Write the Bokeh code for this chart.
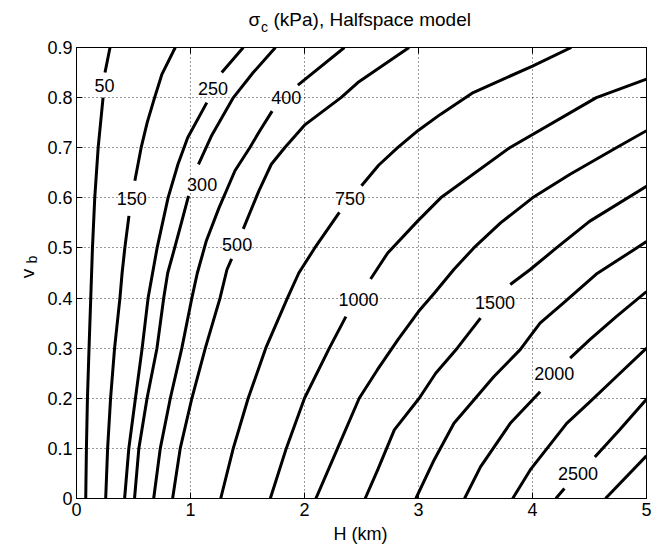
from bokeh.plotting import figure
from bokeh.layouts import column, row
from bokeh.models import Range1d, LinearAxis, FixedTicker, CustomJSTickFormatter
from bokeh.core.properties import value
from bokeh.embed import file_html
from bokeh.resources import INLINE
import math

nan = float("nan")

# ---- axis ticks ----
x_ticks = [0, 1, 2, 3, 4, 5]
x_tick_labels = ["0", "1", "2", "3", "4", "5"]
y_ticks = [0, 0.1, 0.2, 0.3, 0.4, 0.5, 0.6, 0.7, 0.8, 0.9]
y_tick_labels = ["0", "0.1", "0.2", "0.3", "0.4", "0.5", "0.6", "0.7", "0.8", "0.9"]

# ---- contour levels (kPa) and traced contour paths (H in km, v_b); nan = label gap ----
levels = [50, 150, 250, 300, 400, 500, 750, 1000, 1250, 1500, 1750, 2000, 2250, 2500, 2750]

h_50 = [0.081, 0.087, 0.096, 0.110, 0.125, 0.140, 0.160, 0.190, 0.233, nan, 0.250, 0.294]
v_50 = [0.0, 0.1, 0.2, 0.3, 0.4, 0.5, 0.6, 0.7, 0.8, nan, 0.85, 0.9]

h_150 = [0.256, 0.273, 0.299, 0.334, 0.381, 0.400, 0.424, 0.460, nan, 0.512, 0.567, 0.620, 0.685, 0.750, 0.866]
v_150 = [0.0, 0.1, 0.2, 0.3, 0.4, 0.45, 0.5, 0.564, nan, 0.634, 0.7, 0.75, 0.8, 0.847, 0.9]

h_250 = [0.422, 0.459, 0.517, 0.576, 0.628, 0.707, 0.803, 0.890, 0.975, 1.143, nan, 1.274, 1.463]
v_250 = [0.0, 0.1, 0.2, 0.3, 0.4, 0.5, 0.6, 0.667, 0.72, 0.79, nan, 0.85, 0.9]

h_300 = [0.509, 0.547, 0.619, 0.706, 0.765, 0.800, 0.861, 0.920, 0.983, nan, 1.070, 1.187, 1.376, 1.550, 1.745]
v_300 = [0.0, 0.1, 0.2, 0.3, 0.4, 0.45, 0.5, 0.55, 0.604, nan, 0.667, 0.725, 0.8, 0.85, 0.9]

h_400 = [0.677, 0.735, 0.823, 0.924, 1.012, 1.060, 1.140, 1.250, 1.390, 1.520, 1.608, 1.716, nan, 1.942, 2.350]
v_400 = [0.0, 0.1, 0.2, 0.3, 0.4, 0.45, 0.515, 0.58, 0.654, 0.7, 0.734, 0.773, nan, 0.825, 0.9]

h_500 = [0.843, 0.910, 1.012, 1.130, 1.259, 1.320, 1.361, nan, 1.463, 1.600, 1.709, 1.826, 2.000, 2.320, 2.468, 2.917]
v_500 = [0.0, 0.1, 0.2, 0.3, 0.4, 0.457, 0.478, nan, 0.538, 0.614, 0.667, 0.7, 0.745, 0.8, 0.83, 0.9]

h_750 = [1.265, 1.375, 1.506, 1.660, 1.850, 1.950, 2.090, 2.306, nan, 2.500, 2.650, 2.817, 3.000, 3.195, 3.480, 4.000, 4.340]
v_750 = [0.0, 0.1, 0.2, 0.3, 0.4, 0.45, 0.5, 0.571, nan, 0.624, 0.665, 0.7, 0.735, 0.767, 0.81, 0.863, 0.9]

h_1000 = [1.700, 1.840, 2.000, 2.218, 2.363, nan, 2.580, 2.730, 2.990, 3.195, 3.800, 4.560, 5.000]
v_1000 = [0.0, 0.1, 0.2, 0.3, 0.363, nan, 0.438, 0.49, 0.553, 0.6, 0.7, 0.8, 0.837]

h_1250 = [2.100, 2.290, 2.480, 2.640, 2.820, 3.000, 3.140, 3.310, 3.485, 3.720, 4.000, 4.330, 4.735, 5.000]
v_1250 = [0.0, 0.1, 0.2, 0.257, 0.317, 0.373, 0.41, 0.457, 0.5, 0.55, 0.6, 0.647, 0.7, 0.734]

h_1500 = [2.532, 2.642, 2.788, 3.006, 3.151, 3.340, 3.544, nan, 3.805, 3.980, 4.210, 4.500, 5.000]
v_1500 = [0.0, 0.057, 0.137, 0.2, 0.25, 0.3, 0.36, nan, 0.427, 0.457, 0.5, 0.553, 0.623]

h_1750 = [2.977, 3.137, 3.311, 3.484, 3.660, 3.892, 4.066, 4.270, 4.560, 4.880, 5.000]
v_1750 = [0.0, 0.077, 0.15, 0.196, 0.243, 0.297, 0.35, 0.39, 0.448, 0.495, 0.513]

h_2000 = [3.404, 3.544, 3.805, 4.067, nan, 4.330, 4.503, 4.735, 5.000]
v_2000 = [0.0, 0.063, 0.15, 0.213, nan, 0.28, 0.317, 0.363, 0.413]

h_2250 = [3.826, 3.980, 4.300, 4.503, 4.735, 5.000]
v_2250 = [0.0, 0.057, 0.15, 0.193, 0.243, 0.3]

h_2500 = [4.205, 4.280, nan, 4.547, 4.765, 5.000]
v_2500 = [0.0, 0.02, nan, 0.083, 0.137, 0.198]

h_2750 = [4.640, 5.000]
v_2750 = [0.0, 0.085]

contour_h = [h_50, h_150, h_250, h_300, h_400, h_500, h_750, h_1000,
             h_1250, h_1500, h_1750, h_2000, h_2250, h_2500, h_2750]
contour_v = [v_50, v_150, v_250, v_300, v_400, v_500, v_750, v_1000,
             v_1250, v_1500, v_1750, v_2000, v_2250, v_2500, v_2750]

# ---- inline contour labels ----
label_text = ["50", "150", "250", "300", "400", "500", "750", "1000", "1500", "2000", "2500"]
label_h = [0.245, 0.484, 1.198, 1.102, 1.840, 1.409, 2.400, 2.473, 3.672, 4.190, 4.400]
label_v = [0.824, 0.598, 0.819, 0.626, 0.800, 0.507, 0.598, 0.398, 0.391, 0.249, 0.050]

# ---- texts ----
title_main = "σ"
title_sub = "c"
title_rest = "(kPa), Halfspace model"
xlabel_text = "H (km)"
ylabel_main = "v"
ylabel_sub = "b"

FONT = "Liberation Sans"
W, H = 664, 545
TOP_H = 34          # strip holding the title
LEFT_W = 44         # strip holding the y label
BOT_H = 20          # strip holding the x label
MID_H = H - TOP_H - BOT_H


def strip(width, height):
    f = figure(width=width, height=height, x_range=Range1d(0, width), y_range=Range1d(0, height),
               output_backend="svg", toolbar_location=None, title=None,
               x_axis_type=None, y_axis_type=None, min_border=0,
               min_border_left=0, min_border_right=0, min_border_top=0, min_border_bottom=0)
    f.outline_line_color = None
    f.background_fill_color = "white"
    f.border_fill_color = "white"
    f.xgrid.visible = False
    f.ygrid.visible = False
    return f


# title strip (coordinates in pixels; y measured up from the strip's bottom)
tfig = strip(W, TOP_H)
tfig.text(x=[248], y=[TOP_H - 19], text=[title_main], text_align="left", text_baseline="middle",
          text_font=value(FONT), text_font_size="19px", text_color="black")
tfig.text(x=[260.5], y=[TOP_H - 26.6], text=[title_sub], text_align="left", text_baseline="middle",
          text_font=value(FONT), text_font_size="14px", text_color="black")
tfig.text(x=[273], y=[TOP_H - 19], text=[title_rest], text_align="left", text_baseline="middle",
          text_font=value(FONT), text_font_size="19px", text_color="black")

# y-label strip
lfig = strip(LEFT_W, MID_H)
mid_bottom = TOP_H + MID_H
lfig.text(x=[26.5], y=[mid_bottom - 280], text=[ylabel_main], angle=math.pi / 2, text_align="center",
          text_baseline="middle", text_font=value(FONT), text_font_size="19px", text_color="black")
lfig.text(x=[31], y=[mid_bottom - 265], text=[ylabel_sub], angle=math.pi / 2, text_align="center",
          text_baseline="middle", text_font=value(FONT), text_font_size="14px", text_color="black")

# x-label strip
bfig = strip(W, BOT_H)
bfig.text(x=[360], y=[H - 533.3], text=[xlabel_text], text_align="center", text_baseline="middle",
          text_font=value(FONT), text_font_size="18px", text_color="black")

# main contour plot
p = figure(width=W - LEFT_W, height=MID_H, x_range=Range1d(0, 5), y_range=Range1d(0, 0.9),
           output_backend="svg", toolbar_location=None, title=None,
           min_border_left=74 - LEFT_W, min_border_right=W - 646,
           min_border_top=47 - TOP_H, min_border_bottom=mid_bottom - 498)
p.background_fill_color = "white"
p.border_fill_color = "white"
p.outline_line_color = "black"
p.outline_line_width = 1

p.xaxis.ticker = FixedTicker(ticks=x_ticks)
p.xaxis.major_label_overrides = dict(zip(x_ticks, x_tick_labels))
p.yaxis.ticker = FixedTicker(ticks=y_ticks)
p.yaxis.major_label_overrides = dict(zip(y_ticks, y_tick_labels))
p.xaxis.major_label_standoff = 4
p.yaxis.major_label_standoff = 4

for ax in p.axis:
    ax.major_tick_in = 6
    ax.major_tick_out = 0
    ax.minor_tick_line_color = None
    ax.axis_line_color = "black"
    ax.major_tick_line_color = "black"
    ax.major_label_text_font = FONT
    ax.major_label_text_font_size = "18px"
    ax.major_label_text_color = "black"

for loc, ticks in (("right", y_ticks), ("above", x_ticks)):
    ax = LinearAxis(ticker=FixedTicker(ticks=ticks),
                    formatter=CustomJSTickFormatter(code="return ''"),
                    major_tick_in=6, major_tick_out=0, minor_tick_line_color=None,
                    major_label_standoff=0, axis_line_color="black",
                    major_label_text_font_size="1px")
    p.add_layout(ax, loc)

p.xgrid.ticker = FixedTicker(ticks=x_ticks)
p.ygrid.ticker = FixedTicker(ticks=y_ticks)
for g in (p.xgrid, p.ygrid):
    g.grid_line_color = "black"
    g.grid_line_dash = "1 3"
    g.grid_line_width = 1
    g.grid_line_alpha = 0.8

for hs, vs in zip(contour_h, contour_v):
    p.line(hs, vs, line_color="black", line_width=3, line_join="round", line_cap="butt")

p.text(x=label_h, y=label_v, text=label_text, text_align="center", text_baseline="middle",
       text_font=value(FONT), text_font_size="18px", text_color="black")

layout = column(tfig, row(lfig, p), bfig)
open("out.html", "w").write(file_html(layout, INLINE))
